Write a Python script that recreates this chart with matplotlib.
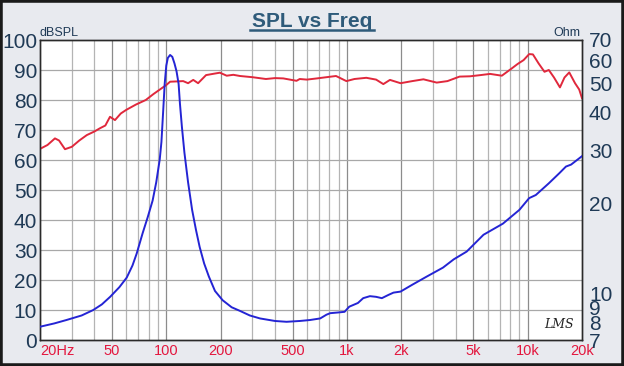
import matplotlib
matplotlib.use("Agg")
import matplotlib.pyplot as plt
from matplotlib.lines import Line2D
from matplotlib.patches import Rectangle

plt.rcParams['font.family'] = ['Liberation Sans', 'DejaVu Sans']

# SPL response (left axis, dB)
spl_freq = [20, 22, 24.2, 25.5, 27.5, 30, 33, 36.3, 40, 43, 46, 48.8, 52, 56, 60, 68, 77, 85,
            100, 105, 115, 124, 132, 141, 150, 166, 185, 198, 216, 235, 256, 300, 356, 400,
            444, 526, 548, 600, 683, 770, 870, 993, 1100, 1280, 1450, 1590, 1730, 1980, 2300,
            2650, 3140, 3600, 4200, 4800, 5480, 6200, 7200, 8200, 8800, 9500, 10200, 10700,
            11500, 12400, 13100, 14000, 15100, 16000, 17000, 18300, 19300, 20000]
spl_db = [63.7, 65, 67.2, 66.5, 63.6, 64.4, 66.5, 68.3, 69.5, 70.6, 71.5, 74.4, 73.3, 75.5,
          76.7, 78.5, 80, 82, 85, 86.1, 86.2, 86.3, 85.6, 86.7, 85.6, 88.3, 88.8, 89.1, 88.1,
          88.4, 88, 87.6, 87, 87.3, 87.2, 86.4, 87, 86.8, 87.2, 87.6, 88, 86.3, 87, 87.4,
          86.8, 85.3, 86.7, 85.6, 86.3, 86.9, 85.8, 86.3, 87.8, 87.9, 88.3, 88.7, 88.1, 90.6,
          92, 93.3, 95.3, 95.2, 92.2, 89.4, 90, 87.5, 84.2, 87.5, 89.2, 85.6, 83.5, 80.6]

# Impedance (right axis, Ohm)
imp_freq = [20, 24, 28, 34, 39.4, 44, 48.9, 55, 60.4, 65, 68.6, 74, 79, 84, 88, 92, 94, 96,
            98, 100, 102, 105, 108, 111, 114, 117, 119, 122, 126, 132, 139, 146, 153, 162,
            172, 186, 205, 230, 256, 290, 330, 400, 463, 548, 624, 711, 770, 808, 900, 970,
            1030, 1150, 1230, 1340, 1450, 1560, 1700, 1810, 1980, 2300, 2750, 3400, 3900,
            4600, 5700, 7300, 9000, 10200, 11100, 13100, 15000, 16300, 17400, 20000]
imp_ohm = [7.75, 7.95, 8.16, 8.45, 8.81, 9.2, 9.75, 10.5, 11.3, 12.4, 13.6, 15.9, 18, 20.4,
           23.5, 28, 32, 40, 50, 57.5, 61, 62.4, 61.5, 58.5, 55, 50, 43, 36, 29.5, 23.5, 19,
           16.3, 14.3, 12.6, 11.4, 10.2, 9.5, 9.0, 8.75, 8.45, 8.26, 8.1, 8.05, 8.1, 8.16,
           8.26, 8.5, 8.6, 8.65, 8.69, 9.04, 9.3, 9.65, 9.8, 9.75, 9.65, 9.9, 10.07, 10.15,
           10.7, 11.37, 12.2, 13.0, 13.8, 15.7, 17.1, 19.0, 20.8, 21.3, 23.3, 25.2, 26.5,
           26.9, 28.7]

freq_ticks = [20, 50, 100, 200, 500, 1000, 2000, 5000, 10000, 20000]
freq_labels = ['20Hz', '50', '100', '200', '500', '1k', '2k', '5k', '10k', '20k']
db_ticks = list(range(0, 101, 10))
ohm_ticks = [7, 8, 9, 10, 20, 30, 40, 50, 60, 70]

navy = '#1f3a56'
red_txt = '#e3173e'

fig = plt.figure(figsize=(6.24, 3.66), dpi=100, facecolor='#e8eaef')
fig.add_artist(Rectangle((0, 0), 1, 1, transform=fig.transFigure, fill=False,
                         edgecolor='#1a1a1a', linewidth=4))
ax = fig.add_axes([40 / 624, 26 / 366, 542 / 624, 300 / 366])
ax.set_facecolor('white')

# vertical grid lines
minor = [m * d for d in (10, 100, 1000, 10000) for m in range(2, 10)] + [100, 1000, 10000]
for f in minor:
    if 20 < f < 20000:
        c = '#8c8c8c' if f in freq_ticks else '#b4b4b4'
        ax.axvline(f, color=c, linewidth=0.9, zorder=1)
for d in db_ticks[1:-1]:
    ax.axhline(d, color='#a8a8a8', linewidth=0.9, zorder=1)

ax.plot(spl_freq, spl_db, color='#e0283c', linewidth=1.4, zorder=3)
ax.set_xscale('log')
ax.set_xlim(20, 20000)
ax.set_ylim(0, 100)
ax.set_xticks(freq_ticks)
ax.set_xticklabels(freq_labels)
ax.minorticks_off()
ax.set_yticks(db_ticks)
ax.tick_params(axis='x', length=0, pad=3, labelsize=10.5, labelcolor=red_txt)
ax.tick_params(axis='y', length=0, pad=2, labelsize=15, labelcolor=navy)
lab0 = ax.get_xticklabels()[0]
lab0.set_horizontalalignment('left')
lab0.set_x(18.5)

ax2 = ax.twinx()
ax2.plot(imp_freq, imp_ohm, color='#2424d4', linewidth=1.4, zorder=3)
ax2.set_yscale('log')
ax2.set_ylim(7, 70)
ax2.set_yticks(ohm_ticks)
ax2.set_yticklabels([str(t) for t in ohm_ticks])
ax2.minorticks_off()
ax2.tick_params(axis='y', length=0, pad=5, labelsize=15, labelcolor=navy)
ax2.set_xlim(20, 20000)

for a in (ax, ax2):
    for s in a.spines.values():
        s.set_color('#2a2a2a')
        s.set_linewidth(1.0)

fig.text(39 / 624, 1 - 36 / 366, 'dBSPL', fontsize=9, color=navy, ha='left', va='baseline')
fig.text(580 / 624, 1 - 36 / 366, 'Ohm', fontsize=9, color=navy, ha='right', va='baseline')
title_c = '#2f5b7a'
fig.text(312 / 624, 1 - 27 / 366, 'SPL vs Freq', fontsize=15, fontweight='bold',
         color=title_c, ha='center', va='baseline')
fig.add_artist(Line2D([250 / 624, 374 / 624], [1 - 30 / 366, 1 - 30 / 366],
                      transform=fig.transFigure, color=title_c, linewidth=1.8))
ax.text(0.985, 0.03, 'LMS', transform=ax.transAxes, fontsize=9, fontstyle='italic',
        family='DejaVu Serif', color='#222222', ha='right', va='bottom', zorder=5)

fig.savefig('out.png', dpi=100, facecolor=fig.get_facecolor())
